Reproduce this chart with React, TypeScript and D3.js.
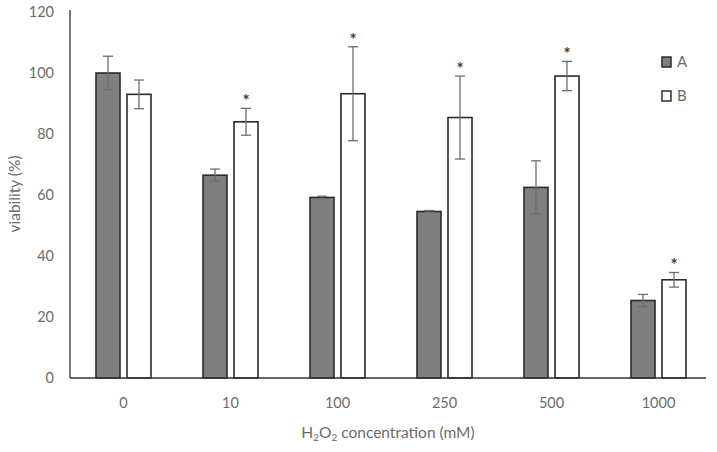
import * as d3 from 'd3';
import React from 'react';

const concentrations = ['0', '10', '100', '250', '500', '1000'];
const seriesNames = ['A', 'B'];
const valuesA = [100, 66.5, 59.2, 54.6, 62.5, 25.4];
const errorsA = [5.5, 2, 0.4, 0.3, 8.7, 2];
const valuesB = [93, 84, 93.2, 85.4, 99, 32.2];
const errorsB = [4.7, 4.4, 15.4, 13.6, 4.8, 2.4];
const significantB = [false, true, true, true, true, true];
const yTicks = [0, 20, 40, 60, 80, 100, 120];

const W = 717;
const H = 452;
const left = 70;
const right = 712;
const top = 10;
const bottom = 378;

const fills = { A: '#7f7f7f', B: '#ffffff' };
const textColor = '#6b6b6b';
const font = 'Lato, "Open Sans", sans-serif';

export default function App() {
  const x = d3.scaleBand().domain(concentrations).range([left, right]);
  const inner = d3.scaleBand().domain(seriesNames).range([-27.5, 27.5]).paddingInner(7 / 31);
  const y = d3.scaleLinear().domain([0, 120]).range([bottom, 12]);

  const rows = concentrations.map((c, i) => ({
    c,
    bars: [
      { key: 'A', v: valuesA[i], e: errorsA[i], star: false },
      { key: 'B', v: valuesB[i], e: errorsB[i], star: significantB[i] },
    ],
  }));

  const cx = (c) => x(c) + x.bandwidth() / 2;

  return (
    <svg width={W} height={H} style={{ position: 'absolute', left: 0, top: 0, background: '#fff' }}
      fontFamily={font}>
      {/* y ticks */}
      {yTicks.map(t => (
        <text key={t} x={54} y={y(t)} dy="0.35em" textAnchor="end" fontSize={14.5} fill={textColor}>{t}</text>
      ))}
      <text transform={`translate(20,${(top + bottom) / 2}) rotate(-90)`} textAnchor="middle"
        fontSize={15.5} fill={textColor}>viability (%)</text>

      {/* bars */}
      {rows.map(r => (
        <g key={r.c}>
          {r.bars.map(b => {
            const bx = cx(r.c) + inner(b.key);
            const mid = bx + inner.bandwidth() / 2;
            return (
              <g key={b.key}>
                <rect x={bx} y={y(b.v)} width={inner.bandwidth()} height={y(0) - y(b.v)}
                  fill={fills[b.key]} stroke="#2b2b2b" strokeWidth={1.6} />
                <g stroke="#6e6e6e" strokeWidth={1.3}>
                  <line x1={mid} x2={mid} y1={y(b.v + b.e)} y2={y(b.v - b.e)} />
                  <line x1={mid - 5} x2={mid + 5} y1={y(b.v + b.e)} y2={y(b.v + b.e)} />
                  <line x1={mid - 5} x2={mid + 5} y1={y(b.v - b.e)} y2={y(b.v - b.e)} />
                </g>
                {b.star && (
                  <text x={mid} y={y(b.v + b.e) - 1} textAnchor="middle" fontSize={17}
                    fontWeight="bold" fill="#404040">*</text>
                )}
              </g>
            );
          })}
          <text x={cx(r.c)} y={408} textAnchor="middle" fontSize={14.5} fill={textColor}>{r.c}</text>
        </g>
      ))}

      {/* axes */}
      <line x1={left} x2={left} y1={top} y2={bottom} stroke="#333" strokeWidth={1.3} />
      <line x1={left} x2={706} y1={bottom} y2={bottom} stroke="#333" strokeWidth={1.3} />

      <text x={388} y={438} textAnchor="middle" fontSize={15.5} fill={textColor}>
        H<tspan fontSize={10} dy={3}>2</tspan><tspan dy={-3}>O</tspan><tspan fontSize={10} dy={3}>2</tspan>
        <tspan dy={-3}> concentration (mM)</tspan>
      </text>

      {/* legend */}
      {seriesNames.map((s, i) => (
        <g key={s} transform={`translate(662,${57 + i * 34})`}>
          <rect width={9} height={10} fill={fills[s]} stroke="#2b2b2b" strokeWidth={1.5} />
          <text x={15} y={5} dy="0.35em" fontSize={15} fill={textColor}>{s}</text>
        </g>
      ))}
    </svg>
  );
}
